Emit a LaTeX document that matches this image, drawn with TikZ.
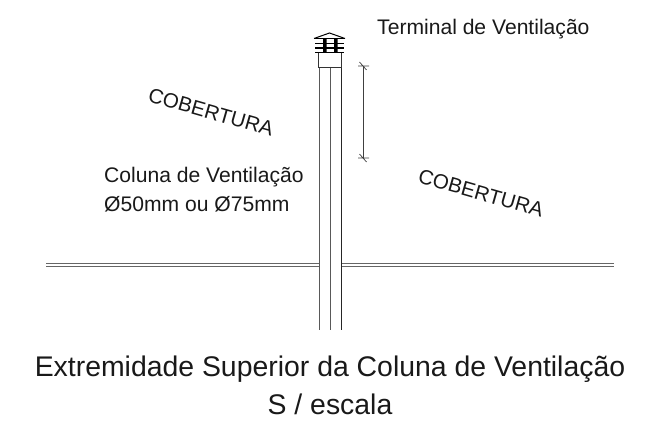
\documentclass[tikz,border=0pt]{standalone}
\usepackage{fontspec}
\setmainfont{Liberation Sans}
\tikzset{
  lbl/.style={inner sep=0pt,text=black!90,font=\fontsize{21.1}{25}\selectfont},
  cob/.style={inner sep=0pt,text=black!90,font=\fontsize{20.6}{25}\selectfont,rotate=-16},
  captxt/.style={inner sep=0pt,text=black!90,font=\fontsize{28.4}{33}\selectfont},
  pipe/.style={draw=black!65,line width=0.9pt},
  roofline/.style={draw=black!60,line width=0.8pt},
  slat/.style={draw=black,line width=1.2pt},
  dim/.style={draw=black!75,line width=0.7pt}
}
\begin{document}
\begin{tikzpicture}[x=1pt,y=-1pt]
\useasboundingbox (0,0) rectangle (651,430);
% roof
\draw[roofline] (46,263) -- (318.5,263) (46,266) -- (318.5,266);
\draw[roofline] (341.5,263) -- (614,263) (341.5,266) -- (614,266);
% pipe
\draw[pipe] (319,67) -- (319,330);
\draw[pipe] (330,67) -- (330,330);
\draw[pipe,draw=black!85] (341,67) -- (341,330);
% terminal box
\draw[black!80,line width=0.9pt] (318,52.5) rectangle (341.5,67.5);
% cap
\draw[black,line width=1pt] (314,38.5) -- (329.5,33) -- (345,38.5);
\draw[slat] (314,38.5) -- (345,38.5);
\draw[slat] (315,43.5) -- (344,43.5);
\draw[slat] (315,48) -- (344,48);
\draw[slat] (315,52.5) -- (344,52.5);
\fill[black] (323,38.5) rectangle (326.5,52.5) (334,38.5) rectangle (337.5,52.5);
% dimension
\coordinate (d1) at (363,66);
\coordinate (d2) at (363,158);
\draw[dim] (d1) -- (d2);
\draw[dim] (358,66) -- (369,66) (359.5,62) -- (366.5,70);
\draw[dim] (358,158) -- (369,158) (359.5,154) -- (366.5,162);
% labels
\node[lbl,anchor=base west] (t) at (377,34.5) {Terminal de Ventilação};
\node[lbl,anchor=base west] (c1) at (104,183) {Coluna de Ventilação};
\node[lbl,anchor=base west] (c2) at (104,212) {Ø50mm ou Ø75mm};
\node[cob] (r1) at (211,112) {COBERTURA};
\node[cob] (r2) at (481,193) {COBERTURA};
\node[captxt,anchor=base] (k1) at (330,377) {Extremidade Superior da Coluna de Ventilação};
\node[captxt,anchor=base] (k2) at (330,414) {S / escala};
\end{tikzpicture}
\end{document}
